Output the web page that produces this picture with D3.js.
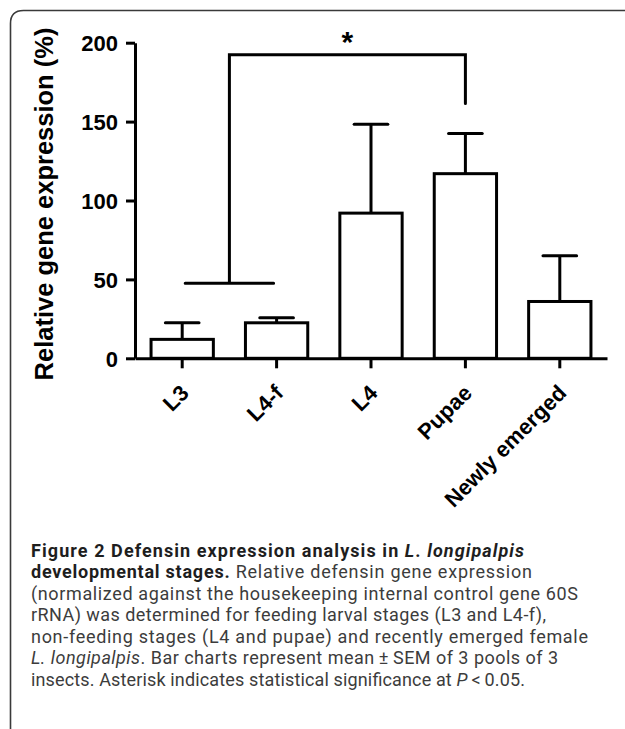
<!DOCTYPE html>
<html>
<head>
<meta charset="utf-8">
<script src="https://cdn.jsdelivr.net/npm/d3@7"></script>
<style>
  html, body { margin: 0; padding: 0; background: #fff; }
  svg { display: block; }
</style>
</head>
<body>
<div id="chart"></div>
<script>
// values
const stages = ['L3', 'L4-f', 'L4', 'Pupae', 'Newly emerged'];
const meanExpr = [12, 22.5, 92, 117, 36];
const semExpr = [10.5, 3.2, 56.3, 25.5, 29];
const yTicks = [0, 50, 100, 150, 200];

// significance bracket: L3 + L4-f vs Pupae
const groupA = ['L3', 'L4-f'];
const groupB = 'Pupae';
const bracketLevels = { low: 47.5, top: 192.3, legEnd: 161.5 };

const captionLines = [
    [['b', 'Figure 2 Defensin expression analysis in '], ['bi', 'L'], ['b', '. '], ['bi', 'longipalpis']],
    [['b', 'developmental stages.'], ['r', ' Relative defensin gene expression']],
    [['r', '(normalized against the housekeeping internal control gene 60S']],
    [['r', 'rRNA) was determined for feeding larval stages (L3 and L4-f),']],
    [['r', 'non-feeding stages (L4 and pupae) and recently emerged female']],
    [['i', 'L. longipalpis'], ['r', '. Bar charts represent mean\u2009\u00b1\u2009SEM of 3 pools of 3']],
    [['r', 'insects. Asterisk indicates statistical significance at '], ['i', 'P'], ['r', '\u2009<\u20090.05.']]
];
// right edge of each caption line in the figure
const captionEnds = [524, 532, 578, 546, 588, 558, 525];

const svgWidth = 625;
const svgHeight = 729;
const axisFont = '"Liberation Sans", Arial, sans-serif';
const lineW = 3;

const data = stages.map((s, i) => ({ stage: s, mean: meanExpr[i], sem: semExpr[i] }));

const svg = d3.select('#chart')
    .append('svg')
    .attr('width', svgWidth)
    .attr('height', svgHeight);

// panel frame (top + left edge, rounded corner)
const r = 13;
svg.append('path')
    .attr('d', `M10.5,${svgHeight} V${10.5 + r} Q10.5,10.5 ${10.5 + r},10.5 H${svgWidth}`)
    .attr('fill', 'none')
    .attr('stroke', '#3a3a3a')
    .attr('stroke-width', 1.6);

const x = d3.scaleBand()
    .domain(stages)
    .range([135, 607])
    .paddingInner(0.34)
    .paddingOuter(0.17);

const y = d3.scaleLinear()
    .domain([0, 200])
    .range([358.3, 42.7]);

const cx = s => x(s) + x.bandwidth() / 2;

// bars
svg.append('g')
    .selectAll('rect')
    .data(data)
    .join('rect')
    .attr('x', d => x(d.stage))
    .attr('y', d => y(d.mean))
    .attr('width', x.bandwidth())
    .attr('height', d => y(0) - y(d.mean))
    .attr('fill', '#fff')
    .attr('stroke', '#000')
    .attr('stroke-width', lineW);

// error bars (upper SEM only)
const capHalf = x.bandwidth() * 0.27;
const err = svg.append('g')
    .attr('stroke', '#000')
    .attr('stroke-width', lineW);

err.selectAll('line.stem')
    .data(data)
    .join('line')
    .attr('class', 'stem')
    .attr('x1', d => cx(d.stage))
    .attr('x2', d => cx(d.stage))
    .attr('y1', d => y(d.mean))
    .attr('y2', d => y(d.mean + d.sem));

err.selectAll('line.cap')
    .data(data)
    .join('line')
    .attr('class', 'cap')
    .attr('stroke-linecap', 'round')
    .attr('x1', d => cx(d.stage) - capHalf)
    .attr('x2', d => cx(d.stage) + capHalf)
    .attr('y1', d => y(d.mean + d.sem))
    .attr('y2', d => y(d.mean + d.sem));

// axes
const yAxis = svg.append('g')
    .attr('transform', `translate(${x.range()[0]},0)`)
    .call(d3.axisLeft(y)
        .tickValues(yTicks)
        .tickSize(9)
        .tickSizeOuter(0)
        .tickPadding(8));

const xAxis = svg.append('g')
    .attr('transform', `translate(0,${y(0)})`)
    .call(d3.axisBottom(x)
        .tickSize(10)
        .tickSizeOuter(0)
        .tickPadding(0));

[yAxis, xAxis].forEach(g => {
    g.selectAll('path, line')
        .attr('stroke', '#000')
        .attr('stroke-width', lineW);
    g.selectAll('text')
        .attr('fill', '#000')
        .style('font-family', axisFont)
        .style('font-weight', 'bold')
        .style('font-size', '22px');
});

yAxis.selectAll('text').attr('dy', '0.36em');

xAxis.selectAll('text')
    .attr('y', null)
    .attr('dy', null)
    .attr('text-anchor', 'end')
    .attr('transform', 'translate(8,36) rotate(-45)');

// y axis title
svg.append('text')
    .attr('transform', `translate(53,${204}) rotate(-90)`)
    .attr('text-anchor', 'middle')
    .style('font-family', axisFont)
    .style('font-weight', 'bold')
    .style('font-size', '25.5px')
    .text('Relative gene expression (%)');

// significance bracket
const leftMid = (cx(groupA[0]) + cx(groupA[1])) / 2;
const bracket = d3.path();
bracket.moveTo(cx(groupA[0]) + 3, y(bracketLevels.low));
bracket.lineTo(cx(groupA[1]) - 3, y(bracketLevels.low));
bracket.moveTo(leftMid, y(bracketLevels.low));
bracket.lineTo(leftMid, y(bracketLevels.top));
bracket.lineTo(cx(groupB), y(bracketLevels.top));
bracket.lineTo(cx(groupB), y(bracketLevels.legEnd));

svg.append('path')
    .attr('d', bracket.toString())
    .attr('fill', 'none')
    .attr('stroke', '#000')
    .attr('stroke-width', lineW)
    .attr('stroke-linecap', 'round');

svg.append('text')
    .attr('x', (leftMid + cx(groupB)) / 2)
    .attr('y', y(bracketLevels.top) - 3)
    .attr('text-anchor', 'middle')
    .style('font-family', axisFont)
    .style('font-weight', 'bold')
    .style('font-size', '30px')
    .text('*');

// caption
const capFont = 'Roboto, Lato, sans-serif';
const capX = 31;
const caption = svg.append('g')
    .style('font-family', capFont)
    .style('font-size', '18px');

captionLines.forEach((parts, i) => {
    const t = caption.append('text')
        .attr('x', capX)
        .attr('y', 556.5 + i * 21.5);
    parts.forEach(([style, str]) => {
        t.append('tspan')
            .style('font-weight', style.includes('b') ? 'bold' : 'normal')
            .style('font-style', style.includes('i') ? 'italic' : 'normal')
            .attr('fill', style.includes('b') ? '#1e1e1e' : '#3c3c3c')
            .text(str);
    });
    t.attr('textLength', captionEnds[i] - capX)
        .attr('lengthAdjust', 'spacing');
});
</script>
</body>
</html>
